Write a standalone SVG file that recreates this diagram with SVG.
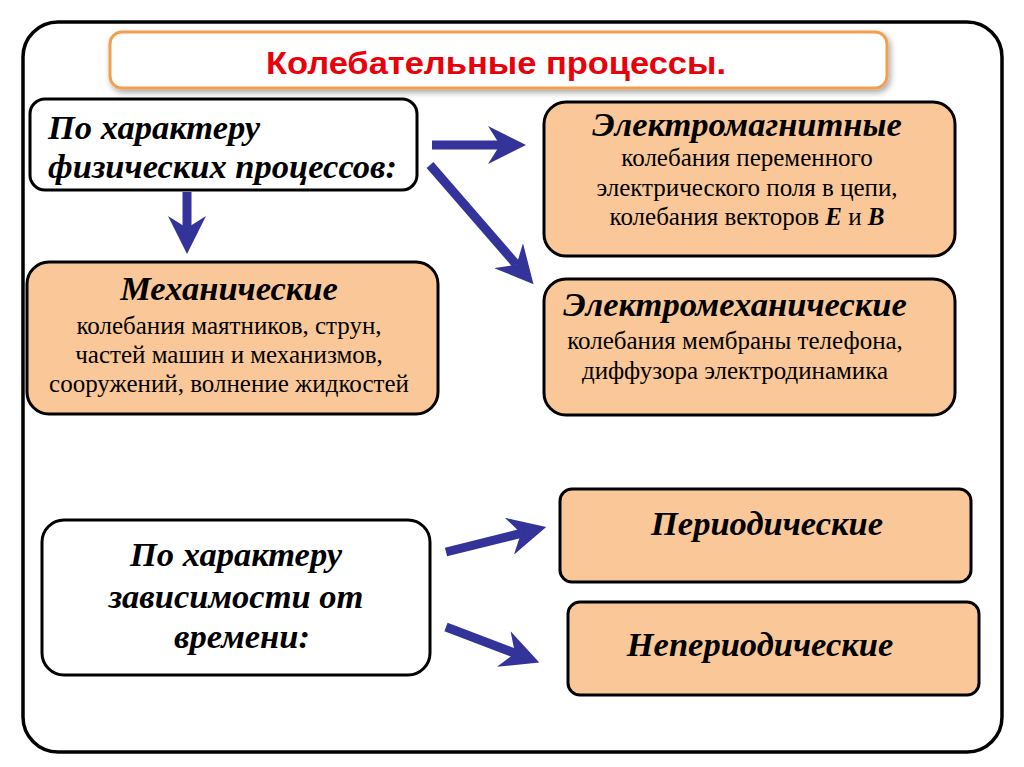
<svg xmlns="http://www.w3.org/2000/svg" width="1024" height="767" viewBox="0 0 1024 767">
<defs>
<style>
.nb{stroke:#000;stroke-width:3}
.w{fill:#fff}
.p{fill:#FAC898}
.h{font-family:"Liberation Serif","Times New Roman",serif;font-weight:bold;font-style:italic;fill:#000;font-size:34.5px}
.b{font-family:"Liberation Serif","Times New Roman",serif;font-size:25px;fill:#000;text-anchor:middle}
.c{text-anchor:middle}
.arr{stroke:#33339A;stroke-width:9;fill:none}
</style>
<marker id="ah" markerUnits="userSpaceOnUse" markerWidth="38" markerHeight="38" viewBox="0 0 38 38" refX="12" refY="19" orient="auto">
<path d="M0,0 L38,19 L0,38 L12,19 z" fill="#33339A"/>
</marker>
<filter id="sh" x="-5%" y="-30%" width="110%" height="170%">
<feGaussianBlur in="SourceAlpha" stdDeviation="3"/>
<feOffset dx="2" dy="3" result="o"/>
<feFlood flood-color="#000" flood-opacity="0.35"/>
<feComposite in2="o" operator="in"/>
<feMerge><feMergeNode/><feMergeNode in="SourceGraphic"/></feMerge>
</filter>
</defs>
<rect width="1024" height="767" fill="#fff"/>
<rect id="frame" x="23" y="22" width="979" height="730" rx="35" fill="none" stroke="#000" stroke-width="3.5"/>

<g id="title">
<rect x="110" y="32" width="777" height="56" rx="12" fill="#fff" stroke="#F0A050" stroke-width="3" filter="url(#sh)"/>
<text x="496" y="74" font-family="Liberation Sans, Arial, sans-serif" font-weight="bold" font-size="31" fill="#E8000B" text-anchor="middle" textLength="460" lengthAdjust="spacingAndGlyphs">Колебательные процессы.</text>
</g>

<g id="phys">
<rect class="nb w" x="30" y="99" width="387" height="91" rx="15"/>
<text class="h" x="48" y="139">По характеру</text>
<text class="h" x="48" y="178">физических процессов:</text>
</g>

<g id="mech">
<rect class="nb p" x="27" y="262" width="411" height="152" rx="22"/>
<text class="h c" x="229" y="300">Механические</text>
<text class="b" x="229" y="334">колебания маятников, струн,</text>
<text class="b" x="229" y="363">частей машин и механизмов,</text>
<text class="b" x="229" y="392">сооружений, волнение жидкостей</text>
</g>

<g id="em">
<rect class="nb p" x="544" y="102" width="411" height="154" rx="22"/>
<text class="h c" x="747" y="136">Электромагнитные</text>
<text class="b" x="747" y="166">колебания переменного</text>
<text class="b" x="747" y="196">электрического поля в цепи,</text>
<text class="b" x="747" y="225">колебания векторов <tspan font-weight="bold" font-style="italic">E</tspan> и <tspan font-weight="bold" font-style="italic">B</tspan></text>
</g>

<g id="emech">
<rect class="nb p" x="544" y="279" width="411" height="136" rx="22"/>
<text class="h c" x="735" y="316">Электромеханические</text>
<text class="b" x="735" y="349">колебания мембраны телефона,</text>
<text class="b" x="735" y="379">диффузора электродинамика</text>
</g>

<g id="time">
<rect class="nb w" x="42" y="520" width="388" height="155" rx="22"/>
<text class="h c" x="236" y="566">По характеру</text>
<text class="h c" x="236" y="608">зависимости от</text>
<text class="h c" x="242" y="648">времени:</text>
</g>

<g id="periodic">
<rect class="nb p" x="560" y="489" width="411" height="93" rx="12"/>
<text class="h c" x="767" y="535">Периодические</text>
</g>

<g id="nonperiodic">
<rect class="nb p" x="568" y="602" width="411" height="93" rx="12"/>
<text class="h c" x="760" y="656">Непериодические</text>
</g>

<g id="connectors">
<line class="arr" x1="187" y1="192" x2="187" y2="228" marker-end="url(#ah)"/>
<line class="arr" x1="432" y1="145" x2="500" y2="145" marker-end="url(#ah)"/>
<line class="arr" x1="430" y1="165" x2="516.5" y2="264.7" marker-end="url(#ah)"/>
<line class="arr" x1="446" y1="552" x2="521" y2="533.3" marker-end="url(#ah)"/>
<line class="arr" x1="446" y1="627" x2="515" y2="653.3" marker-end="url(#ah)"/>
</g>
</svg>
